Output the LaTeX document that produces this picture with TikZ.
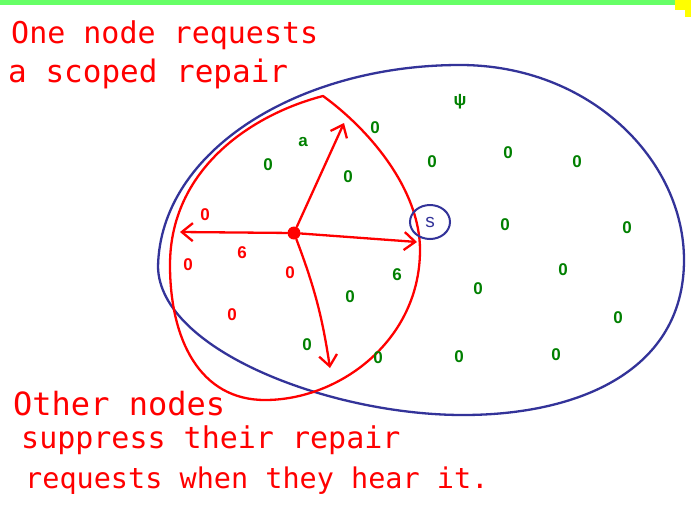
\documentclass[tikz,border=0pt]{standalone}
\usepackage{fontspec}
\setmainfont{Liberation Sans}
\newfontfamily\handmono{DejaVu Sans Mono}
\usetikzlibrary{arrows.meta,shapes.geometric}
\definecolor{pred}{RGB}{255,0,0}
\definecolor{pgreen}{RGB}{0,128,0}
\definecolor{pblue}{RGB}{51,51,153}
\definecolor{barg}{RGB}{102,255,102}
\definecolor{bary}{RGB}{255,255,0}
\tikzset{
  redline/.style={draw=pred, line width=2.3pt, line cap=round, line join=round},
  blueline/.style={draw=pblue, line width=2.3pt, line join=round},
  ray/.style={redline, -{Straight Barb[length=11pt,width=18pt]}},
  gz/.style={text=pgreen, font=\bfseries\fontsize{17}{17}\selectfont, inner sep=0pt},
  rz/.style={text=pred, font=\bfseries\fontsize{17}{17}\selectfont, inner sep=0pt},
  caption/.style={text=pred, anchor=base west, inner sep=0pt},
}
\begin{document}
\begin{tikzpicture}[x=1pt,y=-1pt]
\useasboundingbox (0,0) rectangle (691,520);
\fill[white] (0,0) rectangle (691,520);
% top bar
\fill[barg] (0,0) rectangle (691,5);
\fill[bary] (675,0) rectangle (691,10);
\fill[bary] (685,0) rectangle (691,17);

% captions
\node[caption, font=\handmono\fontsize{30}{30}\selectfont] (t1) at (11,43) {One node requests};
\node[caption, font=\handmono\fontsize{31}{31}\selectfont] (t2) at (8,82) {a scoped repair};
\node[caption, font=\handmono\fontsize{32}{32}\selectfont] (t3) at (13,415) {Other nodes};
\node[caption, font=\handmono\fontsize{30}{30}\selectfont] (t4) at (21,448) {suppress their repair};
\node[caption, font=\handmono\fontsize{28.5}{28.5}\selectfont] (t5) at (25,488) {requests when they hear it.};

% blue region
\draw[blueline] (158,267) .. controls (160,150) and (300,65) .. (460,65)
  .. controls (590,65) and (684,160) .. (684,260)
  .. controls (684,370) and (580,415) .. (463,415)
  .. controls (330,415) and (160,350) .. (158,267) -- cycle;

% red scope
\draw[redline] (323,96) .. controls (370,130) and (420,190) .. (420,250)
  .. controls (420,340) and (340,400) .. (265,400)
  .. controls (200,400) and (170,340) .. (170,265)
  .. controls (170,170) and (250,115) .. (323,96) -- cycle;

% source node
\node[circle, fill=pred, inner sep=0pt, minimum size=13pt] (src) at (294,233) {};
\coordinate (eL) at (180,232);
\coordinate (eR) at (417,242);
\coordinate (eU) at (344,123);
\coordinate (eD) at (330,368);
\draw[ray] (src) -- (eL);
\draw[ray] (src) -- (eR);
\draw[ray] (src) -- (eU);
\draw[ray] (src) to[bend left=6] (eD);

% S node
\node[draw=pblue, line width=2pt, ellipse, minimum width=40pt, minimum height=34pt, inner sep=0pt,
      text=pblue, font=\fontsize{19}{19}\selectfont] (s) at (430,222) {s};

% green nodes
\node[gz] (g1) at (375,128) {0};
\node[gz] (g2) at (303,142) {a};
\node[gz] (g3) at (268,165) {0};
\node[gz] (g4) at (432,162) {0};
\node[gz] (g5) at (348,177) {0};
\node[gz] (g6) at (397,275) {6};
\node[gz] (g7) at (350,297) {0};
\node[gz] (g8) at (307,345) {0};
\node[gz] (g9) at (378,358) {0};
\node[gz] (g10) at (460,102) {ψ};
\node[gz] (g11) at (508,153) {0};
\node[gz] (g12) at (577,162) {0};
\node[gz] (g13) at (505,225) {0};
\node[gz] (g14) at (627,228) {0};
\node[gz] (g15) at (563,270) {0};
\node[gz] (g16) at (478,289) {0};
\node[gz] (g17) at (618,318) {0};
\node[gz] (g18) at (459,357) {0};
\node[gz] (g19) at (556,355) {0};

% red nodes
\node[rz] (r1) at (205,215) {0};
\node[rz] (r2) at (242,253) {6};
\node[rz] (r3) at (188,265) {0};
\node[rz] (r4) at (290,273) {0};
\node[rz] (r5) at (232,315) {0};
\end{tikzpicture}
\end{document}
